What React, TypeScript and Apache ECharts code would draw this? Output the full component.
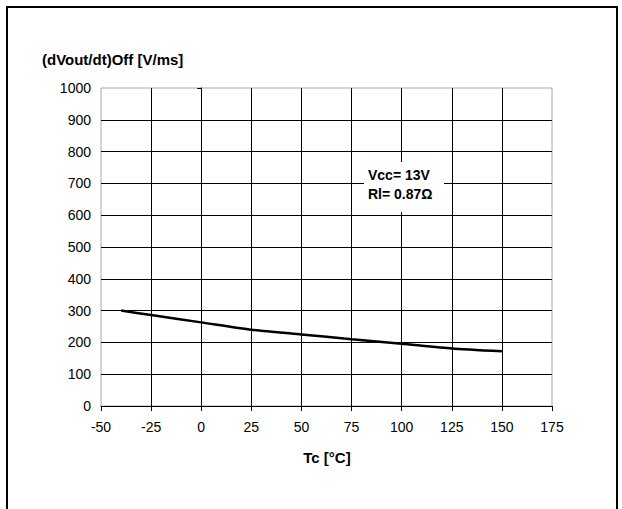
import React, { useEffect, useRef } from "react";
import * as echarts from "echarts";

const temps = [-40, -25, 0, 25, 50, 75, 100, 125, 150];
const dvdt = [300, 286, 263, 240, 225, 210, 196, 181, 172];
const yTitle = "(dVout/dt)Off [V/ms]";
const xTitle = "Tc [°C]";
const note = "Vcc= 13V\nRl= 0.87Ω";

const FONT = "'Liberation Sans', Arial, sans-serif";

export default function App() {
  const ref = useRef<HTMLDivElement>(null);
  useEffect(() => {
    if (!ref.current) return;
    const chart = echarts.init(ref.current, null, { renderer: "svg" });
    chart.setOption({
      animation: false,
      backgroundColor: "#fff",
      grid: {
        left: 101,
        right: 70,
        top: 88,
        bottom: 103,
        show: true,
        borderColor: "#a8a8a8",
        borderWidth: 1,
        backgroundColor: "transparent",
      },
      xAxis: {
        type: "value",
        min: -50,
        max: 175,
        interval: 25,
        axisLine: { show: true, onZero: false, lineStyle: { color: "#000", width: 1 } },
        axisTick: { show: true, inside: false, length: 5, lineStyle: { color: "#000" } },
        axisLabel: {
          color: "#000",
          fontFamily: FONT,
          fontSize: 14,
          margin: 14,
          formatter: (v: number) => String(v),
        },
        splitLine: { show: true, showMinLine: false, showMaxLine: false, lineStyle: { color: "#000", width: 1 } },
      },
      yAxis: {
        type: "value",
        min: 0,
        max: 1000,
        interval: 100,
        axisLine: { show: true, lineStyle: { color: "#000", width: 1 } },
        axisTick: { show: true, inside: false, length: 4, lineStyle: { color: "#000" } },
        axisLabel: {
          color: "#000",
          fontFamily: FONT,
          fontSize: 14,
          margin: 10,
          formatter: (v: number) => String(v),
        },
        splitLine: { show: true, showMinLine: false, showMaxLine: false, lineStyle: { color: "#000", width: 1 } },
      },
      series: [
        {
          type: "line",
          data: temps.map((t, i) => [t, dvdt[i]]),
          showSymbol: false,
          symbol: "none",
          smooth: 0.2,
          lineStyle: { color: "#000", width: 2.5 },
          z: 5,
        },
      ],
      graphic: [
        {
          type: "polyline",
          shape: { points: [[7, 509], [7, 7], [617, 7], [617, 509]] },
          style: { stroke: "#000", lineWidth: 2, fill: "none" },
          silent: true,
        },
        {
          type: "text",
          x: 42,
          y: 59,
          style: { text: yTitle, font: `bold 15px ${FONT}`, fill: "#000", verticalAlign: "middle" },
        },
        {
          type: "text",
          x: 327,
          y: 457,
          style: {
            text: xTitle,
            font: `bold 15px ${FONT}`,
            fill: "#000",
            align: "center",
            verticalAlign: "middle",
          },
        },
        {
          type: "rect",
          shape: { x: 364, y: 162, width: 80, height: 50 },
          style: { fill: "#fff", stroke: "none" },
          z: 10,
        },
        {
          type: "text",
          x: 368,
          y: 165,
          z: 11,
          style: { text: note, font: `bold 14px ${FONT}`, fill: "#000", lineHeight: 19 },
        },
      ],
    });
    return () => chart.dispose();
  }, []);
  return (
    <div
      ref={ref}
      style={{ position: "fixed", left: 0, top: 0, width: 622, height: 509 }}
    />
  );
}
